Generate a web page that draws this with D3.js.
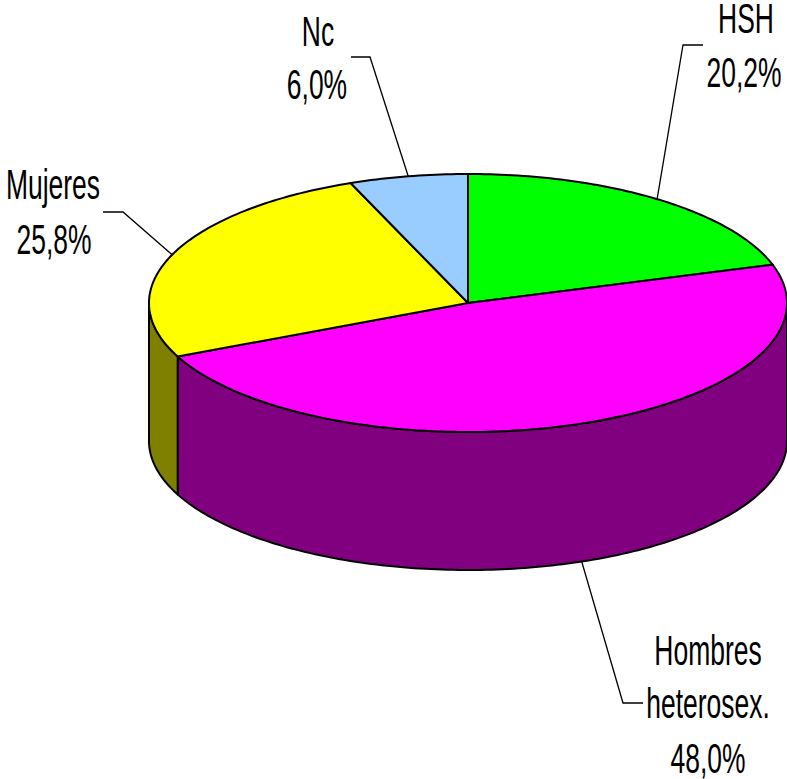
<!DOCTYPE html>
<html>
<head>
<meta charset="utf-8">
<script src="https://cdn.jsdelivr.net/npm/d3@7"></script>
<style>
    html, body { margin: 0; padding: 0; background: white; }
    svg { display: block; }
    .slice-outline { stroke: black; stroke-width: 2px; stroke-linejoin: round; }
    .leader { fill: none; stroke: black; stroke-width: 1.3px; }
    .label { font-family: "Liberation Sans", Arial, sans-serif; font-size: 42px; fill: black; text-anchor: middle; }
</style>
</head>
<body>
<div id="chart"></div>
<script>

// Chart data, clockwise from twelve o'clock
const categories = ["HSH", "Hombres heterosex.", "Mujeres", "Nc"];
const shares = [20.2, 48.0, 25.8, 6.0];

const topColours = ["#00ff00", "#ff00ff", "#ffff00", "#99ccff"];
const sideColours = ["#008000", "#800080", "#808000", "#4d6680"];

// Where each label sits: text lines + leader elbow and leader end
const labelLayout = [
    {lines: [{text: "HSH", x: 746, y: 33}, {x: 744, y: 87}], leader: [[703, 45], [683, 45]]},
    {lines: [{text: "Hombres", x: 708, y: 665}, {text: "heterosex.", x: 708, y: 718}, {x: 708, y: 773}], leader: [[643, 703], [623, 703]]},
    {lines: [{text: "Mujeres", x: 53, y: 199}, {x: 54, y: 254}], leader: [[103, 212], [123, 212]]},
    {lines: [{text: "Nc", x: 318, y: 46}, {x: 317, y: 99}], leader: [[351, 57], [370, 57]]}
];

const width = 787;
const height = 779;
const depth = 138;
const textSqueeze = 0.63;

// The pie is a unit circle mapped onto a flat ellipse
const xScale = d3.scaleLinear().domain([-1, 1]).range([149, 787]);
const yScale = d3.scaleLinear().domain([-1, 1]).range([174, 432]);

const angleX = a => xScale(Math.sin(a));
const angleY = a => yScale(-Math.cos(a));

const percentFormat = d3.formatLocale({decimal: ",", thousands: ".", grouping: [3], currency: ["", ""]}).format(".1f");

const pie = d3.pie().sort(null)(shares);

const svg = d3.select("#chart").append("svg")
    .attr("width", width)
    .attr("height", height);

// Angles along an arc, about one per degree
function arcSteps(start, end) {
    let n = Math.max(2, Math.ceil((end - start) / (Math.PI / 180)));
    return d3.range(n + 1).map(i => start + (end - start) * i / n);
}

// Side wall first: only the front half of the pie can be seen
let wall = d3.area()
    .x(a => angleX(a))
    .y0(a => angleY(a))
    .y1(a => angleY(a) + depth);

svg.append("g")
    .selectAll("path")
    .data(pie)
    .enter()
    .append("path")
    .attr("class", "slice-outline")
    .attr("fill", (d, i) => sideColours[i])
    .attr("d", d => {
        let start = Math.max(d.startAngle, Math.PI / 2);
        let end = Math.min(d.endAngle, Math.PI * 1.5);
        return start < end ? wall(arcSteps(start, end)) + "Z" : null;
    });

// Top face
let outline = d3.line();

svg.append("g")
    .selectAll("path")
    .data(pie)
    .enter()
    .append("path")
    .attr("class", "slice-outline")
    .attr("fill", (d, i) => topColours[i])
    .attr("d", d => {
        let rim = arcSteps(d.startAngle, d.endAngle).map(a => [angleX(a), angleY(a)]);
        return outline([[xScale(0), yScale(0)]].concat(rim)) + "Z";
    });

// Leaders run from the middle of each slice's rim to the label
svg.append("g")
    .selectAll("path")
    .data(pie)
    .enter()
    .append("path")
    .attr("class", "leader")
    .attr("d", (d, i) => {
        let mid = (d.startAngle + d.endAngle) / 2;
        let frontDrop = Math.cos(mid) < 0 ? depth : 0;
        return outline(labelLayout[i].leader.concat([[angleX(mid), angleY(mid) + frontDrop]]));
    });

// Labels, last line of each is the share
labelLayout.forEach(function (layout, i) {
    layout.lines.forEach(function (line) {
        svg.append("text")
            .attr("class", "label")
            .attr("transform", "translate(" + line.x + "," + line.y + ") scale(" + textSqueeze + ",1)")
            .text(line.text || percentFormat(shares[i]) + "%");
    });
});

</script>
</body>
</html>
